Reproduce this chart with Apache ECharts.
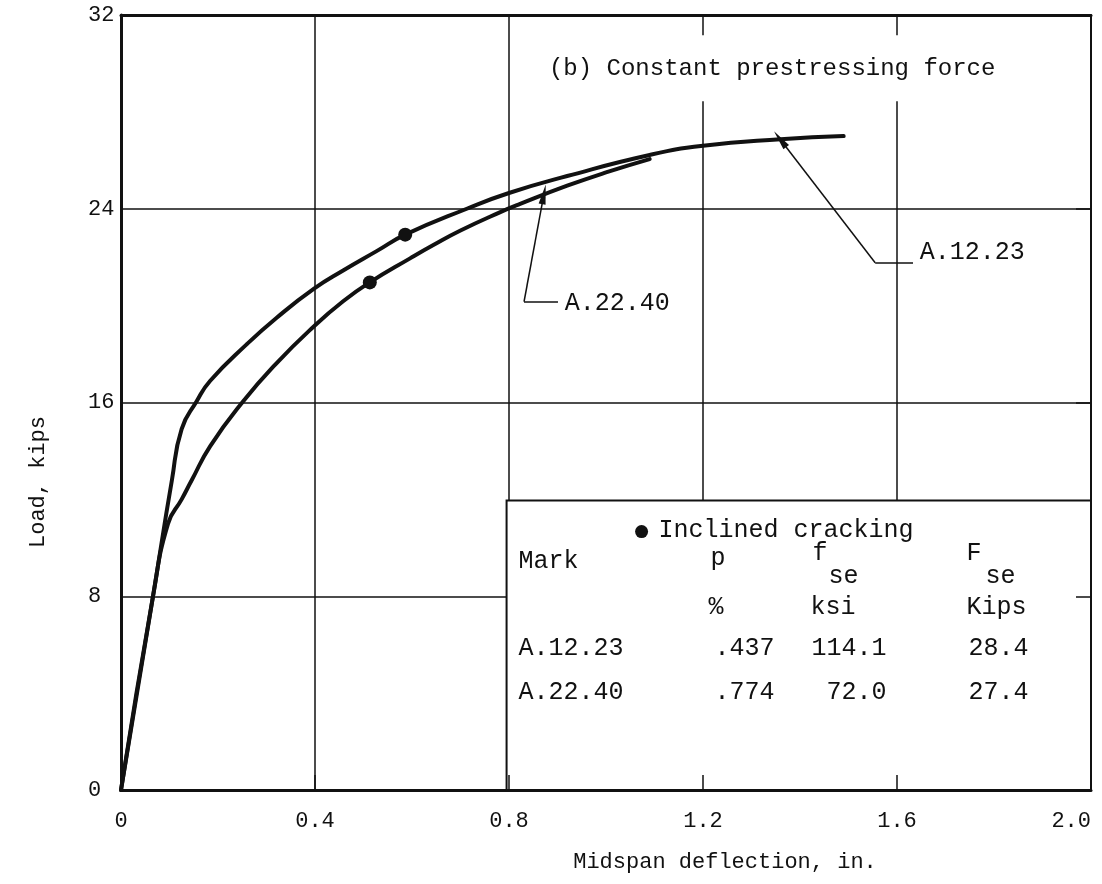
<!DOCTYPE html>
<html>
<head>
<meta charset="utf-8">
<title>Load–deflection, constant prestressing force</title>
<script src="https://cdn.jsdelivr.net/npm/echarts@6/dist/echarts.min.js"></script>
<style>
  html, body { margin: 0; padding: 0; background: #fff; }
  #chart { width: 1102px; height: 884px; }
</style>
</head>
<body>
<div id="chart"></div>
<script>
// ---- data -------------------------------------------------------------
const xTickLabels = ['0', '0.4', '0.8', '1.2', '1.6', '2.0'];
const yTickLabels = ['0', '8', '16', '24', '32'];

// Beam A.12.23 : midspan deflection (in.) vs load (kips)
const a1223Deflection = [0, 0.066, 0.105, 0.125, 0.156, 0.184, 0.259, 0.321, 0.398, 0.458, 0.527, 0.586, 0.713, 0.80, 0.92, 1.09, 1.20, 1.36, 1.49];
const a1223Load       = [0, 8.0,   12.8,  14.9,  16.05, 16.9,  18.4,  19.5,  20.7,  21.45, 22.25, 22.93, 24.0,  24.65, 25.35, 26.22, 26.6, 26.87, 27.0];

// Beam A.22.40
const a2240Deflection = [0, 0.066, 0.097, 0.125, 0.146, 0.184, 0.252, 0.321, 0.398, 0.458, 0.513, 0.596, 0.644, 0.70, 0.781, 0.823, 0.92, 1.0, 1.09];
const a2240Load       = [0, 8.0,   11.0,  12.0,  12.8,  14.2,  16.05, 17.63, 19.15, 20.18, 20.96, 21.95, 22.5,  23.1, 23.85, 24.2,  24.95, 25.5, 26.05];

// Inclined cracking
const crackDeflection = [0.586, 0.513];
const crackLoad       = [22.93, 20.96];

// Specimen table
const tableMarks = ['A.12.23', 'A.22.40'];
const tableP     = ['.437', '.774'];
const tableFse   = ['114.1', ' 72.0'];
const tableFseK  = ['28.4', '27.4'];

// ---- chart ------------------------------------------------------------
const ink = '#111';
const mono = '"Liberation Mono", "DejaVu Sans Mono", monospace';
const pairs = (xs, ys) => xs.map((x, i) => [x, ys[i]]);

const chart = echarts.init(document.getElementById('chart'), null, { renderer: 'canvas' });

const curveStyle = { color: ink, width: 4, cap: 'round', join: 'round' };
const frameAxis = (extra) => Object.assign({
  type: 'value', axisLabel: { show: false }, splitLine: { show: false }, z: 15
}, extra);

const option = {
  animation: false,
  backgroundColor: '#fff',
  grid: { left: 121, top: 15, right: 11, bottom: 94, containLabel: false, outerBoundsMode: 'none' },
  xAxis: [
    {
      type: 'value', min: 0, max: 2, interval: 0.4, position: 'bottom', z: 0,
      axisLine: { show: true, onZero: false, lineStyle: { color: ink, width: 3 } },
      axisTick: { show: false },
      splitLine: { show: true, lineStyle: { color: ink, width: 1.5 } },
      axisLabel: {
        color: ink, fontFamily: mono, fontSize: 22, margin: 20, alignMaxLabel: 'right',
        formatter: v => xTickLabels[Math.round(v / 0.4)]
      }
    },
    // inward ticks drawn over the table box
    frameAxis({
      min: 0, max: 2, interval: 0.4, position: 'bottom',
      axisLine: { show: false, onZero: false },
      axisTick: { show: true, inside: true, length: 15, lineStyle: { color: ink, width: 1.5 } }
    }),
    frameAxis({
      min: 0, max: 2, interval: 0.4, position: 'top',
      axisLine: { show: true, onZero: false, lineStyle: { color: ink, width: 3 } },
      axisTick: { show: false }
    })
  ],
  yAxis: [
    {
      type: 'value', min: 0, max: 32, interval: 8, position: 'left', z: 0,
      axisLine: { show: true, onZero: false, lineStyle: { color: ink, width: 3 } },
      axisTick: { show: false },
      splitLine: { show: true, lineStyle: { color: ink, width: 1.5 } },
      axisLabel: {
        color: ink, fontFamily: mono, fontSize: 22, margin: 33, align: 'left',
        formatter: v => yTickLabels[Math.round(v / 8)]
      }
    },
    frameAxis({
      min: 0, max: 32, interval: 8, position: 'right',
      axisLine: { show: true, onZero: false, lineStyle: { color: ink, width: 2 } },
      axisTick: { show: true, inside: true, length: 15, lineStyle: { color: ink, width: 1.5 } }
    })
  ],
  series: [
    {
      name: 'A.12.23', type: 'line', xAxisIndex: 0, yAxisIndex: 0, z: 20,
      data: pairs(a1223Deflection, a1223Load),
      smooth: 0.5, showSymbol: false, lineStyle: curveStyle
    },
    {
      name: 'A.22.40', type: 'line', xAxisIndex: 0, yAxisIndex: 0, z: 20,
      data: pairs(a2240Deflection, a2240Load),
      smooth: 0.5, showSymbol: false, lineStyle: curveStyle
    },
    {
      name: 'Inclined cracking', type: 'scatter', xAxisIndex: 0, yAxisIndex: 0, z: 21,
      data: pairs(crackDeflection, crackLoad),
      symbol: 'circle', symbolSize: 14, itemStyle: { color: ink, opacity: 1 }
    },
    {
      // label leaders: short horizontal stubs
      type: 'lines', coordinateSystem: 'cartesian2d', xAxisIndex: 0, yAxisIndex: 0, z: 20,
      symbol: ['none', 'none'],
      lineStyle: { color: ink, width: 1.5, opacity: 1 },
      data: [
        { coords: [[1.633, 21.77], [1.555, 21.77]] },
        { coords: [[0.901, 20.16], [0.831, 20.16]] }
      ]
    },
    {
      // label leaders: arrows to the curves
      type: 'lines', coordinateSystem: 'cartesian2d', xAxisIndex: 0, yAxisIndex: 0, z: 20,
      symbol: ['none', 'path://M5,0 L10,30 L0,30 Z'], symbolSize: [0, [7, 20]],
      lineStyle: { color: ink, width: 1.5, opacity: 1 },
      itemStyle: { color: ink },
      data: [
        { coords: [[1.555, 21.77], [1.359, 26.87]] },
        { coords: [[0.831, 20.16], [0.872, 24.6]] }
      ]
    }
  ]
};

chart.setOption(option);

// ---- annotations placed through the axes ------------------------------
const px = (x, y) => chart.convertToPixel({ gridIndex: 0 }, [x, y]);
const txt = (x, y, text, extra) => ({
  type: 'text', x, y, z: 12,
  style: Object.assign({ text, fill: ink, font: '25px ' + mono, textVerticalAlign: 'middle' }, extra || {})
});

const [bx0, by0] = px(0.795, 11.95);
const [bx1, by1] = px(2.0, 0);
const [tx, ty] = px(0.87, 29.8);
const [l1x, l1y] = px(1.647, 21.77);
const [l2x, l2y] = px(0.915, 20.16);

const graphics = [
  {
    type: 'rect', z: 10,
    shape: { x: bx0, y: by0, width: bx1 - bx0, height: by1 - by0 },
    style: { fill: '#fff', stroke: ink, lineWidth: 2 }
  },
  {
    type: 'text', x: tx, y: ty, z: 12,
    style: {
      text: '(b) Constant prestressing force', fill: ink, font: '24px ' + mono,
      textVerticalAlign: 'middle', backgroundColor: '#fff', padding: [21, 6]
    }
  },
  txt(l1x, l1y + 2, 'A.12.23', { textVerticalAlign: 'bottom' }),
  txt(l2x, l2y + 2, 'A.22.40'),
  { type: 'circle', z: 12, shape: { cx: bx0 + 135, cy: by0 + 31, r: 6.5 }, style: { fill: ink } },
  txt(bx0 + 152, by0 + 30, 'Inclined cracking'),
  txt(bx0 + 12, by0 + 61, 'Mark'),
  txt(bx0 + 204, by0 + 58, 'p'),
  txt(bx0 + 306, by0 + 53, 'f'),
  txt(bx0 + 322, by0 + 76, 'se'),
  txt(bx0 + 460, by0 + 53, 'F'),
  txt(bx0 + 479, by0 + 76, 'se'),
  txt(bx0 + 202, by0 + 107, '%'),
  txt(bx0 + 304, by0 + 107, 'ksi'),
  txt(bx0 + 460, by0 + 107, 'Kips')
];
tableMarks.forEach((m, i) => {
  const yy = by0 + 148 + i * 44;
  graphics.push(txt(bx0 + 12, yy, m));
  graphics.push(txt(bx0 + 208, yy, tableP[i]));
  graphics.push(txt(bx0 + 305, yy, tableFse[i]));
  graphics.push(txt(bx0 + 462, yy, tableFseK[i]));
});
graphics.push({
  type: 'text', x: 725, y: 862, z: 12,
  style: { text: 'Midspan deflection, in.', fill: ink, font: '22px ' + mono, textAlign: 'center', textVerticalAlign: 'middle' }
});
graphics.push({
  type: 'text', x: 38, y: 482, rotation: Math.PI / 2, z: 12,
  style: { text: 'Load, kips', fill: ink, font: '22px ' + mono, textAlign: 'center', textVerticalAlign: 'middle' }
});

chart.setOption({ graphic: graphics });
</script>
</body>
</html>
